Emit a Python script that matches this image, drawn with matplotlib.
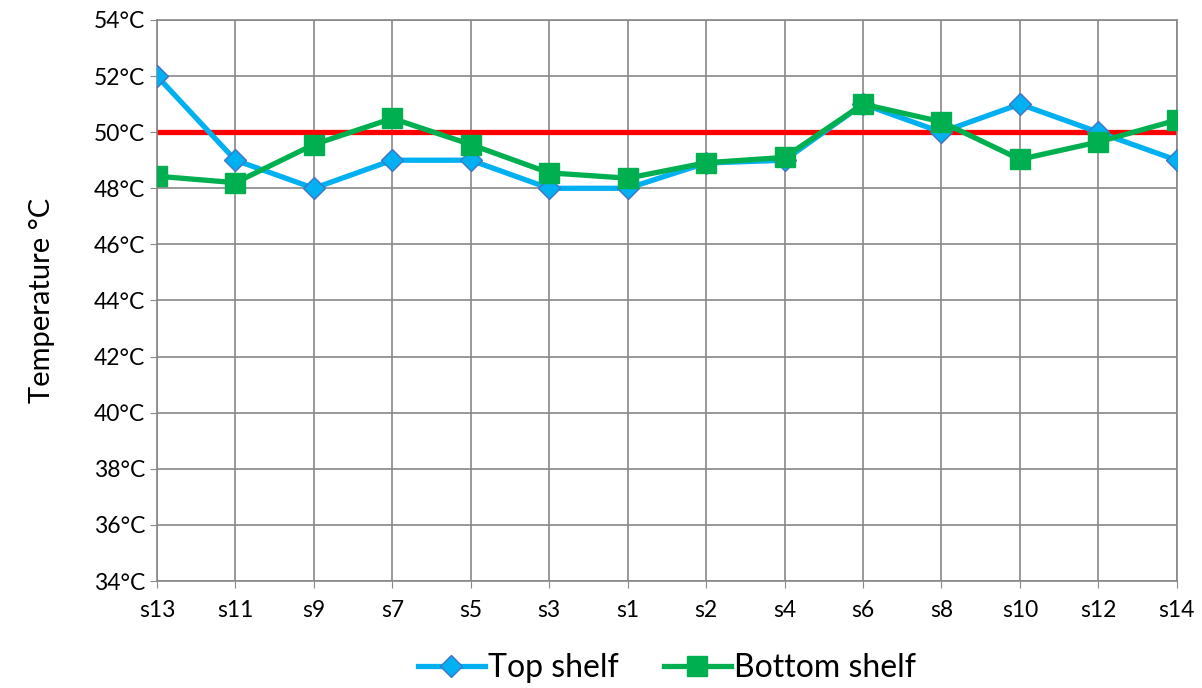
import numpy as np
import matplotlib.pyplot as plt

plt.rcParams['font.family'] = ['Lato', 'DejaVu Sans']

# sensor positions along the shelf
sensors = ['s13', 's11', 's9', 's7', 's5', 's3', 's1', 's2', 's4', 's6', 's8', 's10', 's12', 's14']
top_shelf = [52, 49, 48, 49, 49, 48, 48, 48.9, 49, 51, 50, 51, 50, 49]
bottom_shelf = [48.43, 48.2, 49.56, 50.49, 49.56, 48.55, 48.36, 48.91, 49.1, 51.0, 50.37, 49.03, 49.65, 50.43]
target_temp = 50
y_ticks = np.arange(34, 55, 2)

x = np.arange(len(sensors))

fig = plt.figure(figsize=(12.02, 6.88), dpi=100)
ax = fig.add_axes([0.1306, 0.1555, 0.8484, 0.8155])

ax.axhline(target_temp, color='#FF0000', lw=3.8, zorder=2)
ax.plot(x, top_shelf, color='#00B0F0', lw=3.8, marker='D', ms=11,
        mfc='#00B0F0', mec='#4472C4', mew=1, label='Top shelf', zorder=3)
ax.plot(x, bottom_shelf, color='#00B050', lw=3.8, marker='s', ms=14,
        mfc='#00B050', mec='#00B050', label='Bottom shelf', zorder=4)

ax.set_xlim(0, len(sensors) - 1)
ax.set_ylim(34, 54)
ax.set_xticks(x)
ax.set_xticklabels(sensors)
ax.set_yticks(y_ticks)
ax.set_yticklabels([f'{t}°C' for t in y_ticks])
ax.tick_params(axis='both', labelsize=16.5, length=5, color='#888888')
ax.tick_params(axis='x', pad=9)
ax.grid(True, color='#888888', lw=1.2)
ax.set_axisbelow(True)
for s in ax.spines.values():
    s.set_color('#888888')
    s.set_linewidth(1.2)

ax.set_ylabel('Temperature °C', fontsize=21, labelpad=28)

ax.legend(loc='upper center', bbox_to_anchor=(0.5, -0.095), ncol=2, frameon=False,
          fontsize=23, handlelength=2.1, handletextpad=0.1, columnspacing=1.4,
          borderpad=0.1)

fig.savefig('out.png', dpi=100)
